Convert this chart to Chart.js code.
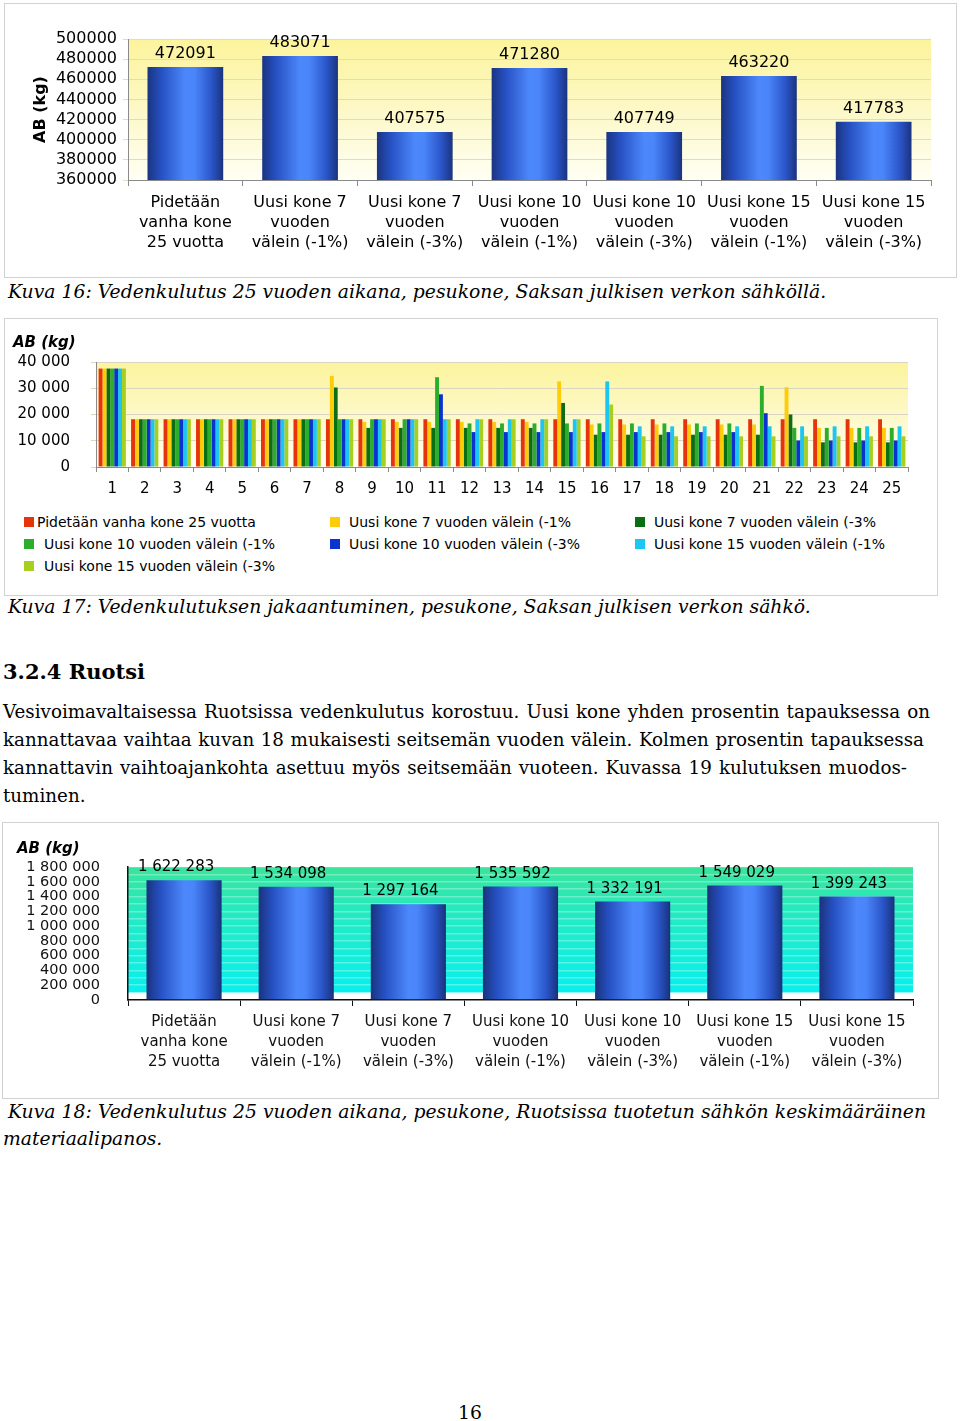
<!DOCTYPE html>
<html>
<head>
<meta charset="utf-8">
<script src="https://cdn.jsdelivr.net/npm/chart.js@4.4.0/dist/chart.umd.min.js"></script>
<style>
body { margin: 0; background: #fff; }
#page { position: relative; width: 960px; height: 1421px; overflow: hidden; font-family: 'DejaVu Serif', Georgia, serif; color: #000; }
.frame { position: absolute; border: 1px solid #d2d2d2; box-sizing: border-box; }
canvas { position: absolute; }
.cap { position: absolute; font-style: italic; font-size: 18.8px; line-height: 28px; white-space: nowrap; }
.just { text-align: justify; text-align-last: justify; }
.txt { position: absolute; font-size: 18.8px; line-height: 28px; white-space: nowrap; }
.para { font-size: 18.3px; }
.ab { position: absolute; font-family: 'DejaVu Sans', sans-serif; font-weight: bold; font-style: italic; font-size: 15px; line-height: 18px; }
.lg { position: absolute; font-family: 'DejaVu Sans', sans-serif; font-size: 14px; line-height: 18px; white-space: nowrap; }
.sw { position: absolute; width: 10px; height: 10px; }
</style>
</head>
<body>
<div id="page">
  <div class="frame" style="left:4px;top:3px;width:953px;height:275px"></div>
  <canvas id="c1" width="949" height="272" style="left:6px;top:4px"></canvas>

  <div class="cap" style="left:8px;top:278px">Kuva 16: Vedenkulutus 25 vuoden aikana, pesukone, Saksan julkisen verkon sähköllä.</div>

  <div class="frame" style="left:4px;top:318px;width:934px;height:278px"></div>
  <canvas id="c2" width="930" height="185" style="left:6px;top:319px"></canvas>
  <div class="ab" style="left:13px;top:333px">AB (kg)</div>
  <div id="legend2"></div>

  <div class="cap" style="left:8px;top:593px">Kuva 17: Vedenkulutuksen jakaantuminen, pesukone, Saksan julkisen verkon sähkö.</div>

  <div class="txt" style="left:3px;top:658px;font-weight:bold;font-size:21px">3.2.4 Ruotsi</div>
  <div class="txt para just" style="left:3px;top:698px;width:927px">Vesivoimavaltaisessa Ruotsissa vedenkulutus korostuu. Uusi kone yhden prosentin tapauksessa on</div>
  <div class="txt para just" style="left:3px;top:726px;width:921px">kannattavaa vaihtaa kuvan 18 mukaisesti seitsemän vuoden välein. Kolmen prosentin tapauksessa</div>
  <div class="txt para just" style="left:3px;top:754px;width:904px">kannattavin vaihtoajankohta asettuu myös seitsemään vuoteen. Kuvassa 19 kulutuksen muodos-</div>
  <div class="txt para" style="left:3px;top:782px">tuminen.</div>

  <div class="frame" style="left:2px;top:822px;width:937px;height:277px"></div>
  <canvas id="c3" width="933" height="273" style="left:4px;top:824px"></canvas>
  <div class="ab" style="left:17px;top:839px">AB (kg)</div>

  <div class="cap just" style="left:8px;top:1098px;width:918px;line-height:27px">Kuva 18: Vedenkulutus 25 vuoden aikana, pesukone, Ruotsissa tuotetun sähkön keskimääräinen</div>
  <div class="cap" style="left:3px;top:1125px;line-height:27px">materiaalipanos.</div>

  <div class="txt" style="left:458px;top:1399px">16</div>
</div>

<script>
// vaihtoehdot (kuvat 16 ja 18)
const caseLabels = [
  ['Pidetään', 'vanha kone', '25 vuotta'],
  ['Uusi kone 7', 'vuoden', 'välein (-1%)'],
  ['Uusi kone 7', 'vuoden', 'välein (-3%)'],
  ['Uusi kone 10', 'vuoden', 'välein (-1%)'],
  ['Uusi kone 10', 'vuoden', 'välein (-3%)'],
  ['Uusi kone 15', 'vuoden', 'välein (-1%)'],
  ['Uusi kone 15', 'vuoden', 'välein (-3%)']
];
const germanyTotal = [472091, 483071, 407575, 471280, 407749, 463220, 417783];
const swedenTotal = [1622283, 1534098, 1297164, 1535592, 1332191, 1549029, 1399243];

// kuva 17: vuosittainen jakauma
const years = ['1','2','3','4','5','6','7','8','9','10','11','12','13','14','15','16','17','18','19','20','21','22','23','24','25'];
const seriesNames = [
  'Pidetään vanha kone 25 vuotta',
  'Uusi kone 7 vuoden välein (-1%',
  'Uusi kone 7 vuoden välein (-3%',
  'Uusi kone 10 vuoden välein (-1%',
  'Uusi kone 10 vuoden välein (-3%',
  'Uusi kone 15 vuoden välein (-1%',
  'Uusi kone 15 vuoden välein (-3%'
];
const seriesColors = ['#e5330d', '#ffcc0a', '#0b6d14', '#2aae2c', '#0a33d0', '#1cc6f2', '#a8cf1f'];
const oldKeep = [37500,18200,18200,18200,18200,18200,18200,18200,18200,18200,18200,18200,18200,18200,18200,18200,18200,18200,18200,18200,18200,18200,18200,18200,18200];
const new7a   = [37500,18200,18200,18200,18200,18200,18200,34700,17200,17200,17200,17200,17200,17200,32600,16200,16200,16200,16200,16200,16200,30400,14900,14900,14900];
const new7b   = [37500,18200,18200,18200,18200,18200,18200,30300,14900,14900,14900,14900,14900,14900,24400,12300,12300,12300,12300,12300,12300,20000,9400,9400,9400];
const new10a  = [37500,18200,18200,18200,18200,18200,18200,18200,18200,18200,34200,16600,16600,16600,16600,16600,16600,16600,16600,16600,30900,14900,14900,14900,14900];
const new10b  = [37500,18200,18200,18200,18200,18200,18200,18200,18200,18200,27700,13300,13300,13300,13300,13300,13300,13300,13300,13300,20500,10100,10100,10100,10100];
const new15a  = [37500,18200,18200,18200,18200,18200,18200,18200,18200,18200,18200,18200,18200,18200,18200,32600,15500,15500,15500,15500,15500,15500,15500,15500,15500];
const new15b  = [37500,18200,18200,18200,18200,18200,18200,18200,18200,18200,18200,18200,18200,18200,18200,23800,11700,11700,11700,11700,11700,11700,11700,11700,11700];
const yearSeries = [oldKeep, new7a, new7b, new10a, new10b, new15a, new15b];

Chart.defaults.font.family = "'DejaVu Sans', Verdana, sans-serif";
Chart.defaults.color = '#000';
Chart.defaults.animation = false;

const BAR_PCT = 0.66;

function cylinder(c) {
  const chart = c.chart;
  const x = chart.scales.x;
  if (!chart.chartArea || !x || c.dataIndex === undefined) return '#2f5fd8';
  const cx = x.getPixelForValue(c.dataIndex);
  const w = x.width / chart.data.labels.length * BAR_PCT;
  const g = chart.ctx.createLinearGradient(cx - w / 2, 0, cx + w / 2, 0);
  g.addColorStop(0, '#1a3480');
  g.addColorStop(0.18, '#2650c2');
  g.addColorStop(0.5, '#4c88fb');
  g.addColorStop(0.62, '#4a86fa');
  g.addColorStop(0.85, '#2a55c8');
  g.addColorStop(1, '#1a337e');
  return g;
}

function valueLabels(fmt, size, dx) {
  return {
    id: 'valueLabels',
    afterDatasetsDraw(chart) {
      const ctx = chart.ctx;
      const meta = chart.getDatasetMeta(0);
      ctx.save();
      ctx.font = size + "px 'DejaVu Sans'";
      ctx.fillStyle = '#000';
      ctx.textAlign = 'center';
      ctx.textBaseline = 'alphabetic';
      meta.data.forEach(function(bar, i) {
        ctx.fillText(fmt(chart.data.datasets[0].data[i]), bar.x + dx, bar.y - 9);
      });
      ctx.restore();
    }
  };
}

function plotBg(stops, floorValue) {
  return {
    id: 'plotBg',
    beforeDraw(chart) {
      const a = chart.chartArea;
      const ctx = chart.ctx;
      const bottom = floorValue === undefined ? a.bottom : chart.scales.y.getPixelForValue(floorValue);
      const g = ctx.createLinearGradient(0, a.top, 0, bottom);
      stops.forEach(function(s) { g.addColorStop(s[0], s[1]); });
      ctx.save();
      ctx.fillStyle = g;
      ctx.fillRect(a.left, a.top, a.right - a.left, bottom - a.top);
      ctx.restore();
    }
  };
}

const spaced = v => String(v).replace(/\B(?=(\d{3})+(?!\d))/g, ' ');

// Kuva 16
new Chart(document.getElementById('c1'), {
  type: 'bar',
  data: {
    labels: caseLabels,
    datasets: [{ data: germanyTotal, backgroundColor: cylinder, barPercentage: BAR_PCT, categoryPercentage: 1 }]
  },
  options: {
    responsive: false,
    layout: { padding: { left: 10, top: 35, right: 24, bottom: 0 } },
    plugins: { legend: { display: false }, tooltip: { enabled: false } },
    scales: {
      x: {
        grid: { drawOnChartArea: false, tickLength: 6, color: '#8a8a8a' },
        border: { color: '#8a8a8a' },
        ticks: { font: { size: 16, lineHeight: 1.25 }, padding: 7, maxRotation: 0, autoSkip: false },
        afterFit: s => { s.height = 96; }
      },
      y: {
        min: 360000, max: 500000,
        grid: { color: '#dcdcc8', tickLength: 5 },
        border: { color: '#8a8a8a' },
        ticks: { stepSize: 20000, autoSkip: false, font: { size: 16, lineHeight: 1 }, padding: 6, callback: v => String(v) },
        title: { display: true, text: 'AB (kg)', font: { size: 16, weight: 'bold' }, padding: { top: 15, bottom: 0 } },
        afterFit: s => { s.width = 112; }
      }
    }
  },
  plugins: [plotBg([[0, '#fcf49c'], [0.5, '#fdf8c6'], [1, '#fffff4']]), valueLabels(v => String(v), 16, 0)]
});

// Kuva 17
new Chart(document.getElementById('c2'), {
  type: 'bar',
  data: {
    labels: years,
    datasets: yearSeries.map((d, i) => ({
      label: seriesNames[i], data: d, backgroundColor: seriesColors[i],
      barPercentage: 1, categoryPercentage: 0.84
    }))
  },
  options: {
    responsive: false,
    layout: { padding: { left: 0, top: 43, right: 28, bottom: 0 } },
    plugins: { legend: { display: false }, tooltip: { enabled: false } },
    scales: {
      x: {
        grid: { drawOnChartArea: false, tickLength: 5, color: '#8a8a8a' },
        border: { color: '#8a8a8a' },
        ticks: { font: { size: 15 }, padding: 8, maxRotation: 0, autoSkip: false },
        afterFit: s => { s.height = 37; }
      },
      y: {
        min: 0, max: 40000,
        grid: { color: '#d8d6c0', tickLength: 5 },
        border: { color: '#8a8a8a' },
        ticks: { stepSize: 10000, font: { size: 15 }, padding: 21, callback: v => spaced(v) },
        afterFit: s => { s.width = 90; }
      }
    }
  },
  plugins: [plotBg([[0, '#fcf49c'], [0.5, '#fdf8c8'], [1, '#fffff2']])]
});

// legenda kuvalle 17
const legendSlots = [[24, 37, 522], [330, 349, 522], [635, 654, 522], [24, 44, 544], [330, 349, 544], [635, 654, 544], [24, 44, 566]];
const lg = document.getElementById('legend2');
seriesNames.forEach(function(name, i) {
  const s = legendSlots[i];
  const sw = document.createElement('div');
  sw.className = 'sw';
  sw.style.cssText = 'left:' + s[0] + 'px;top:' + (s[2] - 5) + 'px;background:' + seriesColors[i];
  lg.appendChild(sw);
  const t = document.createElement('div');
  t.className = 'lg';
  t.style.cssText = 'left:' + s[1] + 'px;top:' + (s[2] - 9) + 'px';
  t.textContent = name;
  lg.appendChild(t);
});

// Kuva 18
new Chart(document.getElementById('c3'), {
  type: 'bar',
  data: {
    labels: caseLabels,
    datasets: [{ data: swedenTotal, backgroundColor: cylinder, barPercentage: 0.67, categoryPercentage: 1 }]
  },
  options: {
    responsive: false,
    layout: { padding: { left: 0, top: 43, right: 24, bottom: 0 } },
    plugins: { legend: { display: false }, tooltip: { enabled: false } },
    scales: {
      x: {
        grid: { drawOnChartArea: false, tickLength: 6, color: '#111' },
        border: { color: '#111', width: 1.5 },
        ticks: { font: { size: 15, lineHeight: 1.33 }, color: '#111', padding: 6, maxRotation: 0, autoSkip: false },
        afterFit: s => { s.height = 97; }
      },
      y: {
        min: 0, max: 1800000,
        grid: { color: 'rgba(255,255,255,0.3)', lineWidth: 1.5, drawTicks: false },
        border: { color: '#111', width: 1.5 },
        ticks: { stepSize: 100000, autoSkip: false, font: { size: 14.5, lineHeight: 1 }, color: '#111', padding: 28,
          callback: v => (v % 200000 === 0 ? spaced(v) : '') },
        afterFit: s => { s.width = 124; }
      }
    }
  },
  plugins: [plotBg([[0, '#3ae49c'], [0.35, '#26eac0'], [1, '#08f0ee']], 100000), valueLabels(spaced, 15, -8)]
});
</script>
</body>
</html>
